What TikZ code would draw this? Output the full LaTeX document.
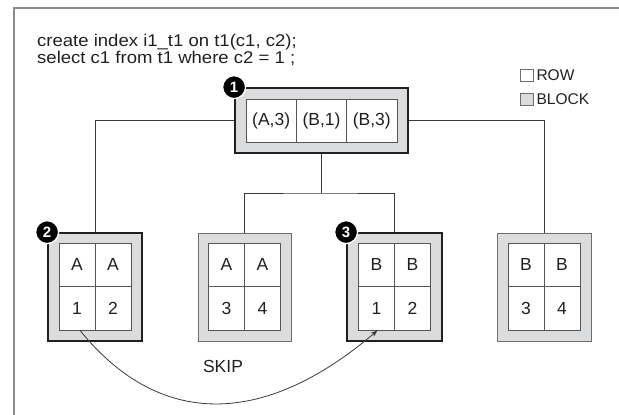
\documentclass[tikz,border=0pt]{standalone}
\usepackage{fontspec}
\setmainfont{Liberation Sans}
\newfontfamily\widesans[FakeStretch=1.09]{Liberation Sans}
\usetikzlibrary{arrows.meta,calc}
\definecolor{blockgray}{HTML}{DBDCDD}
\definecolor{ink}{HTML}{231F20}
\definecolor{linegray}{HTML}{3A3A3A}
\definecolor{cellgray}{HTML}{555555}
\definecolor{thingray}{HTML}{6E6E6E}
\definecolor{framegray}{HTML}{8A8A8A}
\newcommand{\txtfont}{\fontsize{17.5}{17.5}\selectfont}
\newcommand{\codefont}{\widesans\fontsize{17}{16}\selectfont}
\tikzset{
  blocktight/.style={draw=ink, line width=1.8pt, fill=blockgray, inner sep=0pt},
  blockloose/.style={draw=thingray, line width=1pt, fill=blockgray, inner sep=0pt},
  rowcell/.style={draw=cellgray, line width=0.8pt, fill=white, inner sep=0pt,
    font=\txtfont, text=ink},
  leafcell/.style={rowcell, minimum width=36pt, minimum height=43.5pt},
  rootcell/.style={rowcell, minimum width=50.33pt, minimum height=43pt},
  badge/.style={circle, fill=black, draw=white, line width=1.4pt, inner sep=0pt,
    minimum size=23pt, text=white, font=\fontsize{15}{15}\selectfont\bfseries},
  conn/.style={draw=linegray, line width=0.8pt},
  keybox/.style={draw=thingray, line width=0.7pt, minimum width=13pt,
    minimum height=12pt, inner sep=0pt},
  keytext/.style={anchor=west, inner sep=0pt, font=\fontsize{15.5}{15.5}\selectfont, text=ink},
  codeline/.style={anchor=base west, inner sep=0pt, font=\codefont, text=ink},
}
\begin{document}
\begin{tikzpicture}[x=1pt, y=-1pt]
\useasboundingbox (0,0) rectangle (619,415);

% outer frame (open at right and bottom)
\draw[framegray, line width=1.5pt] (14,420) -- (14,8) -- (625,8);

% SQL statements
\node[codeline] (sql1) at (37,46) {create index i1\_t1 on t1(c1, c2);};
\node[codeline] (sql2) at (37,63) {select c1 from t1 where c2 = 1 ;};

% legend
\node[keybox, fill=white] (rowkey) at (526.5,75.5) {};
\node[keytext] (rowlabel) at ([xshift=3pt]rowkey.east) {ROW};
\node[keybox, fill=blockgray] (blockkey) at (526.5,99.5) {};
\node[keytext] (blocklabel) at ([xshift=3pt]blockkey.east) {BLOCK};

% root block
\node[blocktight, minimum width=173pt, minimum height=65pt] (root) at (321.5,120.5) {};

% leaf blocks
\node[blocktight, minimum width=94pt, minimum height=108pt] (leaf1) at (95,287) {};
\node[blockloose, minimum width=93pt, minimum height=108pt] (leaf2) at (244.5,287) {};
\node[blocktight, minimum width=95pt, minimum height=108pt] (leaf3) at (394.5,287) {};
\node[blockloose, minimum width=94pt, minimum height=108pt] (leaf4) at (544,287) {};

% branch connectors
\coordinate (junction) at (321.5,193);
\draw[conn] (root.west) -| (leaf1.north);
\draw[conn] (root.east) -| (leaf4.north);
\draw[conn] (root.south) -- (junction);
\draw[conn] (leaf2.north) |- (junction) -| (leaf3.north);

% root entries
\node[rootcell] (rA) at (271.2,120.5) {(A,3)};
\node[rootcell] (rB) at (321.5,120.5) {(B,1)};
\node[rootcell] (rC) at (371.8,120.5) {(B,3)};

% leaf entries
\foreach \n/\cx/\k/\p/\q in {1/95/A/1/2, 2/244.5/A/3/4, 3/394.5/B/1/2, 4/544/B/3/4}{
  \node[leafcell] (l\n a) at (\cx-18,264.75) {\k};
  \node[leafcell] (l\n b) at (\cx+18,264.75) {\k};
  \node[leafcell] (l\n c) at (\cx-18,308.25) {\p};
  \node[leafcell] (l\n d) at (\cx+18,308.25) {\q};
}

% numbered markers
\node[badge] (m1) at (root.north west) {1};
\node[badge] (m2) at (leaf1.north west) {2};
\node[badge] (m3) at (leaf3.north west) {3};

% skip arrow
\draw[conn, -{Stealth[length=7pt,width=5pt]}]
  ([xshift=3pt]l1c.south) .. controls (159,428) and (263,428) .. ([xshift=1pt]l3c.south);
\node[font=\txtfont, text=ink, inner sep=0pt] (skip) at (223,366) {SKIP};
\end{tikzpicture}
\end{document}
